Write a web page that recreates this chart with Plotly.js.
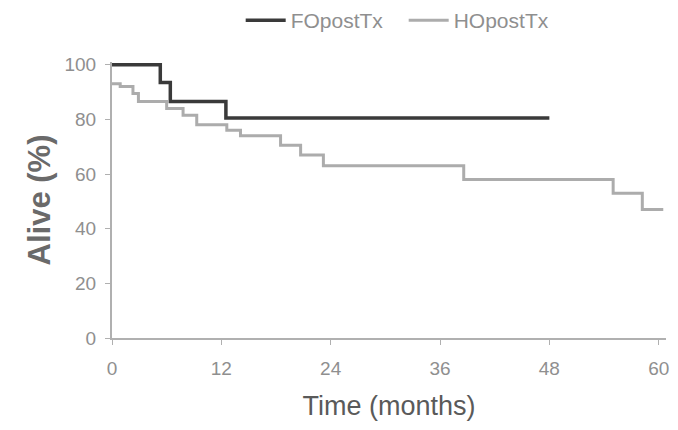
<!DOCTYPE html>
<html>
<head>
<meta charset="utf-8">
<script src="https://cdn.plot.ly/plotly-3.0.1.min.js"></script>
<style>html,body{margin:0;padding:0;background:#fff}#chart{width:678px;height:430px}</style>
</head>
<body>
<div id="chart"></div>
<script>
// Kaplan-Meier style step data
const seriesNames = ["FOpostTx", "HOpostTx"];
const foTime = [0, 5.3, 6.4, 12.5, 48];
const foAlive = [100, 93.5, 86.5, 80.5, 80.5];
const hoTime = [0, 0.9, 2.3, 2.9, 6.0, 7.8, 9.3, 12.6, 14.1, 18.5, 20.7, 23.2, 38.6, 55, 58.2, 60.5];
const hoAlive = [93, 92, 89.5, 86.5, 84, 81.5, 78, 76, 74, 70.5, 67, 63, 58, 53, 47, 47];
const xTicks = [0, 12, 24, 36, 48, 60];
const yTicks = [0, 20, 40, 60, 80, 100];

const traces = [
  {x: foTime, y: foAlive, name: seriesNames[0], mode: "lines",
   line: {shape: "hv", color: "#3a3a3a", width: 3.5}},
  {x: hoTime, y: hoAlive, name: seriesNames[1], mode: "lines",
   line: {shape: "hv", color: "#acacac", width: 3}}
];

const fam = "Liberation Sans, Arial, sans-serif";
const tickFont = {family: fam, size: 19, color: "#8f8f8f"};
const layout = {
  width: 678, height: 430,
  margin: {l: 112, r: 12, t: 62, b: 92},
  paper_bgcolor: "#fff", plot_bgcolor: "#fff",
  showlegend: true,
  legend: {orientation: "h", xref: "container", yref: "container", x: 0.355, y: 1.0,
           xanchor: "left", yanchor: "top",
           font: {family: fam, size: 21, color: "#8f8f8f"},
           itemwidth: 40, entrywidth: 108, tracegroupgap: 0},
  xaxis: {range: [0, 60.8], tickvals: xTicks, ticktext: xTicks.map(String),
          showgrid: false, zeroline: false, showline: true, linecolor: "#b0b0b0", linewidth: 2,
          ticks: "outside", ticklen: 5, tickcolor: "#b0b0b0", tickfont: tickFont,
          ticklabelstandoff: 7,
          title: {text: "Time (months)", standoff: 18,
                  font: {family: fam, size: 27, color: "#5a5a5a"}}},
  yaxis: {range: [0, 101], tickvals: yTicks, ticktext: yTicks.map(String),
          showgrid: false, zeroline: false, showline: true, linecolor: "#b0b0b0", linewidth: 2,
          ticks: "outside", ticklen: 5, tickcolor: "#b0b0b0", tickfont: tickFont,
          ticklabelstandoff: 5,
          title: {text: "<b>Alive (%)</b>", standoff: 5,
                  font: {family: fam, size: 31, color: "#6a6a6a"}}}
};
Plotly.newPlot("chart", traces, layout, {displayModeBar: false, staticPlot: true});
</script>
</body>
</html>
